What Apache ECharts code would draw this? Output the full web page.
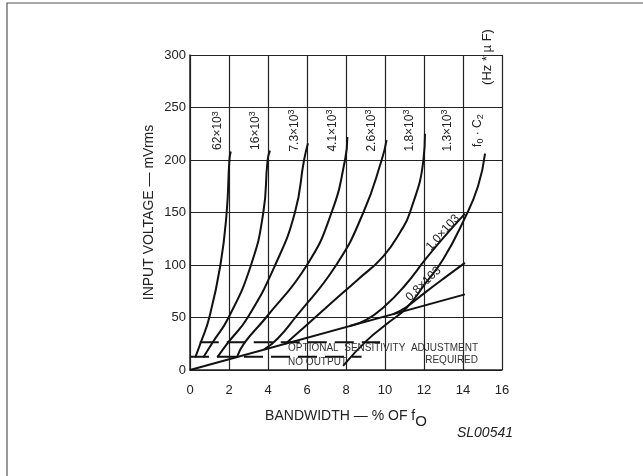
<!DOCTYPE html>
<html><head><meta charset="utf-8">
<script src="https://cdn.jsdelivr.net/npm/echarts/dist/echarts.min.js"></script>
<style>html,body{margin:0;padding:0;background:#fff;}#c{width:643px;height:476px;}</style>
</head><body><div id="c"></div>
<script>
// ---- data ----
const xTicks = [0, 2, 4, 6, 8, 10, 12, 14, 16];
const yTicks = [0, 50, 100, 150, 200, 250, 300];
const c62 = [[0.27,12],[0.55,26],[0.99,50],[1.56,100],[1.88,150],[2.02,200],[2.09,208]];
const c16 = [[0.68,12],[1.15,26],[1.98,50],[3.13,100],[3.76,150],[3.98,200],[4.1,209]];
const c73 = [[1.4,12],[1.95,26],[2.96,50],[4.37,100],[5.38,150],[5.85,200],[6.05,216]];
const c41 = [[2.4,12],[2.8,26],[3.9,50],[6.0,100],[7.26,150],[7.95,200],[8.07,222]];
const c26 = [[3.8,19.5],[4.5,30],[5.4,50],[7.5,100],[8.89,150],[9.83,200],[10.08,219]];
const c18 = [[4.9,25],[6.0,43],[7.2,63],[8.6,86],[9.9,108],[10.8,132],[11.28,150],[11.97,200],[12.05,225]];
const c13 = [[7.85,4],[9.06,28],[10.1,44],[11.1,59],[12.05,82],[13.0,106],[14.05,143],[14.77,175],[15.13,206]];
const c10 = [[8.2,42],[9.06,48],[10,61],[11,80],[12.1,106],[13,126],[14.1,149]];
const c08 = [[10.4,53],[11.1,60],[12,73],[13,87],[14.1,102]];
const limitLine = [[0,0],[14.1,72]];
const sensLine = [[0.5,26.4],[9.75,26.4]];
const noOutLine = [[0,12.7],[8.8,12.7]];
const curveLabels = ['62×10','16×10','7.3×10','4.1×10','2.6×10','1.8×10','1.3×10'];
const curveLabelX = [1.44, 3.38, 5.38, 7.33, 9.33, 11.28, 13.23];
const curveLabelY = 228;

const FONT = '"Liberation Sans", Arial, sans-serif';
const ink = '#111';
const chart = echarts.init(document.getElementById('c'), null, {renderer:'canvas'});

function curve(data){
  return {type:'line', data:data, showSymbol:false, smooth:0.5,
    lineStyle:{color:ink, width:2}, silent:true, z:3};
}
function dashed(data){
  return {type:'line', data:data, showSymbol:false,
    lineStyle:{color:ink, width:2, type:[19,8]}, silent:true, z:3};
}

chart.setOption({
  animation:false,
  backgroundColor:'#fff',
  grid:{left:190, top:55, right:141, bottom:106},
  xAxis:{type:'value', min:xTicks[0], max:xTicks[xTicks.length-1], interval:2,
    axisLine:{lineStyle:{color:'#222', width:1.5}}, axisTick:{show:false},
    splitLine:{show:true, lineStyle:{color:'#222', width:1.2}},
    axisLabel:{fontSize:13, color:'#222', margin:14, fontFamily:FONT},
    name:'BANDWIDTH — % OF f{o|O}', nameLocation:'middle', nameGap:34,
    nameTextStyle:{fontSize:14, color:'#222', fontFamily:FONT,
      rich:{o:{fontSize:15, color:'#222', fontFamily:FONT, padding:[10,0,0,0]}}}
  },
  yAxis:{type:'value', min:yTicks[0], max:yTicks[yTicks.length-1], interval:50,
    axisLine:{show:true, lineStyle:{color:'#222', width:1.5}}, axisTick:{show:false},
    splitLine:{show:true, lineStyle:{color:'#222', width:1.2}},
    axisLabel:{fontSize:13, color:'#222', margin:4, fontFamily:FONT},
    name:'INPUT VOLTAGE — mVrms', nameLocation:'middle', nameGap:34, nameRotate:90,
    nameTextStyle:{fontSize:14, color:'#222', fontFamily:FONT}
  },
  series:[curve(c62),curve(c16),curve(c73),curve(c41),curve(c26),curve(c18),
    curve(c13),curve(c10),curve(c08),
    {type:'line', data:limitLine, showSymbol:false, lineStyle:{color:ink,width:2}, silent:true, z:3},
    dashed(sensLine), dashed(noOutLine)]
});

function px(x,y){ return chart.convertToPixel({gridIndex:0},[x,y]); }
const g = [];
g.push({type:'rect', shape:{x:7,y:3,width:700,height:600}, style:{fill:'none', stroke:'#555', lineWidth:1.2}, silent:true});
const supRich = {sup:{fontSize:9, fontFamily:FONT, fill:'#222', verticalAlign:'top', padding:[0,0,6,0]},
                 sub:{fontSize:9, fontFamily:FONT, fill:'#222', padding:[6,0,0,0]}};
curveLabels.forEach((t,i)=>{
  const p = px(curveLabelX[i], curveLabelY);
  g.push({type:'text', x:p[0], y:p[1], rotation:Math.PI/2, silent:true, z:10,
    style:{text:t+'{sup|3}', fontSize:12, fontFamily:FONT, fill:'#222', align:'center', verticalAlign:'middle', rich:supRich}});
});
let p = px(14.77, 228);
g.push({type:'text', x:p[0], y:p[1], rotation:Math.PI/2, silent:true, z:10,
  style:{text:'f{sub|0} · C{sub|2}', fontSize:12, fontFamily:FONT, fill:'#222', align:'center', verticalAlign:'middle', rich:supRich}});
g.push({type:'text', x:487, y:57, rotation:Math.PI/2, silent:true, z:10,
  style:{text:'(Hz * µ F)', fontSize:13, fontFamily:FONT, fill:'#222', align:'center', verticalAlign:'middle'}});
p = px(12.97, 131);
g.push({type:'text', x:p[0], y:p[1], rotation:48*Math.PI/180, silent:true, z:10,
  style:{text:'1.0×103', fontSize:12, fontFamily:FONT, fill:'#222', align:'center', verticalAlign:'middle'}});
p = px(11.97, 82);
g.push({type:'text', x:p[0], y:p[1], rotation:44*Math.PI/180, silent:true, z:10,
  style:{text:'0.8×103', fontSize:12, fontFamily:FONT, fill:'#222', align:'center', verticalAlign:'middle'}});
p = px(5.03, 21);
g.push({type:'text', x:p[0], y:p[1], silent:true, z:10,
  style:{text:'OPTIONAL  SENSITIVITY  ADJUSTMENT', fontSize:10, fontFamily:FONT, fill:'#333', align:'left', verticalAlign:'middle'}});
p = px(14.77, 9.5);
g.push({type:'text', x:p[0], y:p[1], silent:true, z:10,
  style:{text:'REQUIRED', fontSize:10, fontFamily:FONT, fill:'#333', align:'right', verticalAlign:'middle'}});
p = px(5.03, 7.3);
g.push({type:'text', x:p[0], y:p[1], silent:true, z:10,
  style:{text:'NO OUTPUT', fontSize:10, fontFamily:FONT, fill:'#333', align:'left', verticalAlign:'middle'}});
g.push({type:'text', x:513, y:433, silent:true, z:10,
  style:{text:'SL00541', fontSize:14, fontStyle:'italic', fontFamily:FONT, fill:'#222', align:'right', verticalAlign:'middle'}});
chart.setOption({graphic:g});
</script></body></html>
